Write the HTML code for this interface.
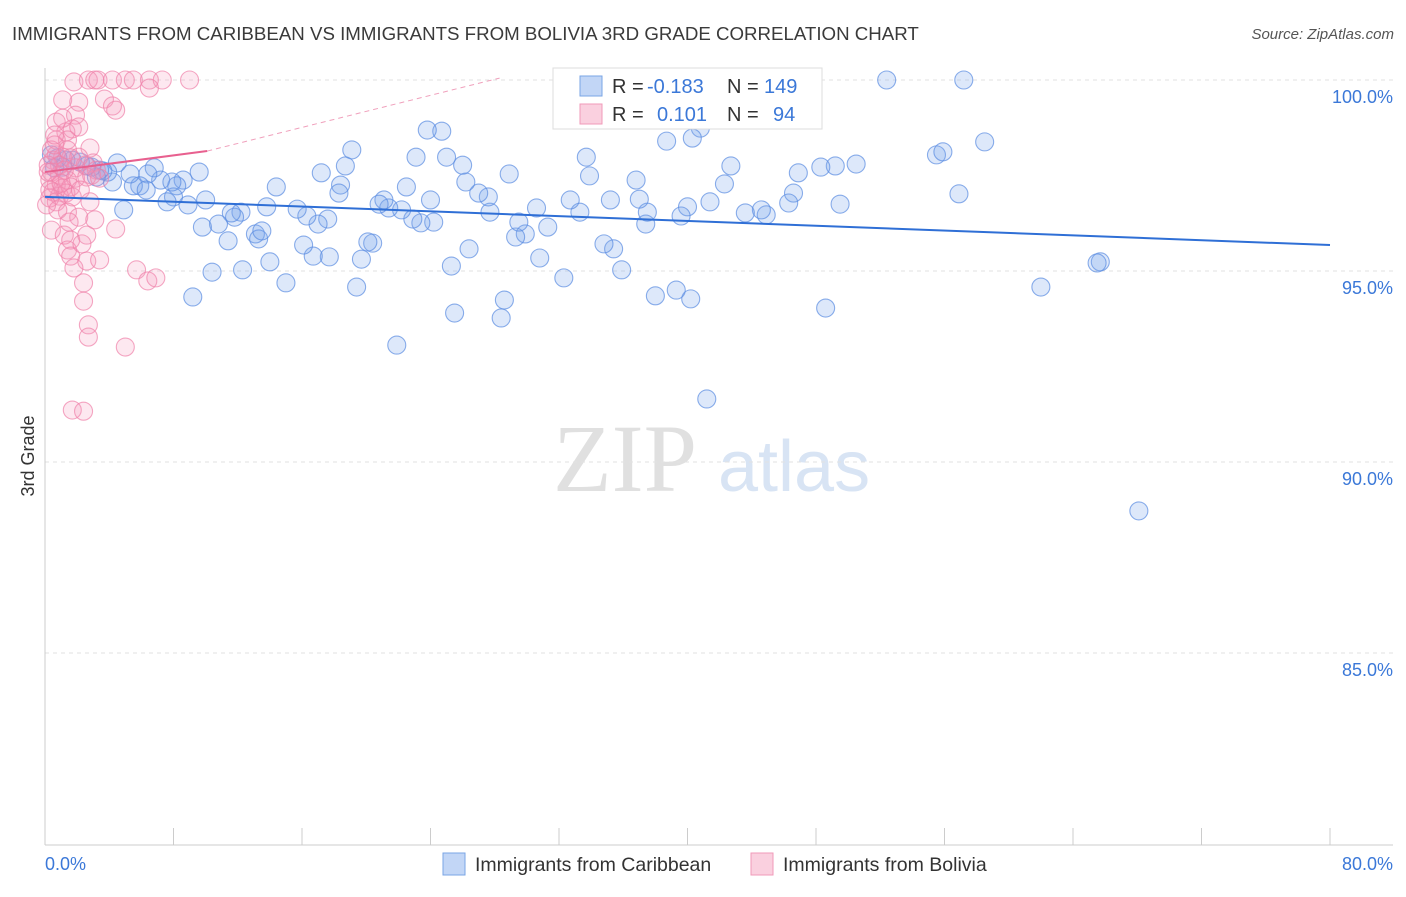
<!DOCTYPE html>
<html><head><meta charset="utf-8"><style>
body{margin:0;background:#fff;font-family:"Liberation Sans",sans-serif;}
svg text{font-family:"Liberation Sans",sans-serif;}
</style></head><body>
<svg id="chart" width="1406" height="892" xmlns="http://www.w3.org/2000/svg">
<text x="12" y="40" font-size="18.7" fill="#3a3a3a">IMMIGRANTS FROM CARIBBEAN VS IMMIGRANTS FROM BOLIVIA 3RD GRADE CORRELATION CHART</text>
<text x="1394" y="39" font-size="15" fill="#555" font-style="italic" text-anchor="end">Source: ZipAtlas.com</text>
<g>
<text x="553" y="491" font-size="96" fill="#e0e0e0" font-family="Liberation Serif" style="font-family:'Liberation Serif',serif">ZIP</text>
<text x="718" y="491" font-size="72" fill="#d8e4f4">atlas</text>
</g>
<g id="grid"></g>
<g id="axes"></g>
<g id="pts"></g>
<g id="trend"></g>
<text transform="translate(34,456) rotate(-90)" font-size="18" fill="#333" text-anchor="middle">3rd Grade</text>
<g>
<rect x="553" y="68" width="269" height="61" fill="#fff" stroke="#ddd"/>
<rect x="580" y="76" width="22" height="20" fill="rgba(120,165,235,0.45)" stroke="#7aa5e5"/>
<rect x="580" y="104" width="22" height="20" fill="rgba(245,150,185,0.45)" stroke="#f09ab8"/>
<text x="612" y="93" font-size="20" fill="#333">R =</text>
<text x="647" y="93" font-size="20" fill="#3b78d8">-0.183</text>
<text x="727" y="93" font-size="20" fill="#333">N =</text>
<text x="764" y="93" font-size="20" fill="#3b78d8">149</text>
<text x="612" y="121" font-size="20" fill="#333">R =</text>
<text x="657" y="121" font-size="20" fill="#3b78d8">0.101</text>
<text x="727" y="121" font-size="20" fill="#333">N =</text>
<text x="773" y="121" font-size="20" fill="#3b78d8">94</text>
</g>
<g>
<rect x="443" y="853" width="22" height="22" fill="rgba(120,165,235,0.45)" stroke="#7aa5e5"/>
<text x="475" y="871" font-size="19.5" fill="#333">Immigrants from Caribbean</text>
<rect x="751" y="853" width="22" height="22" fill="rgba(245,150,185,0.45)" stroke="#f09ab8"/>
<text x="783" y="871" font-size="19.5" fill="#333">Immigrants from Bolivia</text>
</g>
</svg>
<script>
const yTicks=[100,95,90,85];
const yTickLabels=["100.0%","95.0%","90.0%","85.0%"];
const xTicks=[0,8,16,24,32,40,48,56,64,72,80];
const blueX=[52.4,57.2,58.5,55.5,55.9,56.9,50.5,49.2,48.3,49.5,48.6,46.9,46.6,46.3,44.9,44.6,43.6,42.7,42.3,41.4,40.8,40.3,40.0,39.6,40.2,39.3,38.0,41.2,38.7,37.4,37.5,37.0,36.8,35.4,34.8,35.9,35.2,33.9,33.7,33.3,32.7,32.3,31.3,30.8,30.6,29.9,29.3,29.5,28.9,28.6,28.4,27.7,27.6,27.0,26.4,26.2,26.0,25.3,25.5,25.0,24.7,23.8,24.2,24.0,23.4,23.1,22.9,22.5,22.2,21.9,21.4,21.1,20.8,20.4,20.1,19.4,19.7,19.1,18.7,18.4,18.3,17.6,17.7,17.2,17.0,16.7,16.1,16.3,15.7,15.0,14.4,14.0,13.8,13.1,13.3,13.5,12.3,12.2,11.8,11.4,11.6,10.8,10.4,9.8,10.0,9.2,8.9,8.6,8.2,8.0,7.6,7.2,6.8,6.4,5.9,5.5,5.3,4.9,4.5,4.2,3.9,3.6,3.4,3.2,2.9,2.6,2.2,1.7,1.3,1.1,0.8,0.6,0.4,68.1,65.7,65.5,62.0,9.6,6.3,7.9];
const blueY=[100,100,98.38,98.04,98.12,97.02,97.8,97.75,97.72,96.75,94.03,97.57,97.04,96.78,96.47,96.6,96.52,97.75,97.28,96.81,98.74,98.48,96.68,96.44,94.27,94.5,94.35,91.65,98.4,96.23,96.54,96.88,97.38,95.58,95.71,95.03,96.86,97.49,97.98,96.54,96.86,94.82,96.15,95.34,96.65,95.97,95.89,96.28,97.54,94.24,93.77,96.54,96.94,97.04,95.58,97.33,97.77,95.13,93.9,97.98,98.66,98.69,96.28,96.86,96.26,97.98,96.36,97.2,96.6,93.06,96.65,96.86,96.75,95.73,95.76,94.58,95.31,98.17,97.75,97.25,97.04,96.36,95.37,97.57,96.23,95.39,95.68,96.44,96.62,94.69,97.2,95.24,96.68,95.97,95.84,96.05,95.03,96.54,96.41,95.79,96.52,96.23,94.97,96.15,96.86,94.32,96.73,97.38,97.23,96.94,96.81,97.38,97.7,97.54,97.23,97.23,97.54,96.6,97.83,97.33,97.59,97.62,97.64,97.46,97.72,97.75,97.85,97.9,97.9,97.72,97.96,97.7,98.04,88.72,95.24,95.21,94.58,97.59,97.12,97.33];
const pinkX=[1.8,2.7,3.1,3.3,4.2,5.0,5.5,6.5,7.3,9.0,6.5,1.1,2.1,3.7,4.2,4.4,1.9,1.7,1.3,0.7,2.1,1.4,0.7,2.8,0.7,1.1,1.6,0.5,0.9,1.9,2.5,3.0,3.2,0.4,0.9,1.4,1.9,2.6,0.3,0.7,1.1,1.6,0.5,0.9,1.3,1.7,0.3,0.7,2.8,1.4,2.1,3.1,0.4,1.2,1.6,2.6,4.4,1.4,1.6,2.6,3.4,1.8,5.7,2.4,6.4,6.9,2.4,2.7,2.7,5.0,1.7,2.4,0.4,0.6,0.2,0.3,0.1,0.8,2.2,1.2,1.4,0.6,2.1,1.0,2.9,0.2,1.5,2.3,3.4,1.1];
const pinkY=[99.95,100,100,100,100,100,100,100,100,100,99.79,99.48,99.42,99.5,99.32,99.21,99.08,98.72,98.64,98.9,98.77,98.43,98.43,98.22,98.04,97.98,97.96,97.9,97.77,97.7,97.77,97.83,97.64,97.59,97.51,97.38,97.43,97.46,97.38,97.25,97.17,97.2,97.07,96.96,97.04,96.94,96.91,96.81,96.81,96.54,96.41,96.34,96.07,95.94,95.81,95.94,96.1,95.55,95.39,95.26,95.29,95.08,95.03,94.69,94.74,94.82,94.21,93.59,93.27,93.01,91.36,91.33,98.17,98.3,97.77,97.12,96.73,96.6,97.12,97.64,98.17,98.56,97.98,97.3,97.51,97.59,96.28,95.71,97.43,99.0];
const blueTrend=[[0,96.94],[80,95.68]];
const pinkTrend=[[0,97.59],[10.1,98.14]];
const pinkTrendExt=[[10.1,98.14],[28.3,100.05]];

const NS="http://www.w3.org/2000/svg";
const X=v=>45+v*(1285/80);
const Y=v=>80+(100-v)*38.2;
function mk(tag,attrs,parent){const e=document.createElementNS(NS,tag);for(const k in attrs)e.setAttribute(k,attrs[k]);parent.appendChild(e);return e;}
const grid=document.getElementById('grid'),axes=document.getElementById('axes'),pts=document.getElementById('pts'),trend=document.getElementById('trend');
yTicks.forEach((t,i)=>{
  const l=mk('line',{x1:45,x2:1393,y1:Y(t),y2:Y(t),stroke:'#e2e2e2','stroke-dasharray':'4,4'},grid);
  
  
  const tx=mk('text',{x:1393,y:Y(t)+23,'font-size':18,fill:'#3b78d8','text-anchor':'end'},axes);
  tx.textContent=yTickLabels[i];
  
  
});
const ya=mk('line',{x1:45,x2:45,y1:68,y2:845,stroke:'#ccc'},axes);


const xa=mk('line',{x1:45,x2:1393,y1:845,y2:845,stroke:'#ccc'},axes);


xTicks.forEach(t=>{
  const l=mk('line',{x1:X(t),x2:X(t),y1:828,y2:845,stroke:'#ccc'},axes);
  
  
});
const xl0=mk('text',{x:45,y:870,'font-size':18,fill:'#3b78d8'},axes);xl0.textContent='0.0%';


const xl1=mk('text',{x:1393,y:870,'font-size':18,fill:'#3b78d8','text-anchor':'end'},axes);xl1.textContent='80.0%';


blueX.forEach((v,i)=>{
  const c=mk('circle',{cx:X(v),cy:Y(blueY[i]),r:9,fill:'rgba(120,165,235,0.25)',stroke:'rgba(90,140,225,0.7)','stroke-width':1.1},pts);
  
  
});
pinkX.forEach((v,i)=>{
  const c=mk('circle',{cx:X(v),cy:Y(pinkY[i]),r:9,fill:'rgba(245,150,185,0.22)',stroke:'rgba(240,130,170,0.7)','stroke-width':1.1},pts);
  
  
});
const bt=mk('line',{x1:X(blueTrend[0][0]),y1:Y(blueTrend[0][1]),x2:X(blueTrend[1][0]),y2:Y(blueTrend[1][1]),stroke:'#2f6fd6','stroke-width':2},trend);


const pt=mk('line',{x1:X(pinkTrend[0][0]),y1:Y(pinkTrend[0][1]),x2:X(pinkTrend[1][0]),y2:Y(pinkTrend[1][1]),stroke:'#e8608f','stroke-width':2},trend);


const pe=mk('line',{x1:X(pinkTrendExt[0][0]),y1:Y(pinkTrendExt[0][1]),x2:X(pinkTrendExt[1][0]),y2:Y(pinkTrendExt[1][1]),stroke:'#f0a0bc','stroke-width':1,'stroke-dasharray':'5,4'},trend);


</script>
</body></html>
